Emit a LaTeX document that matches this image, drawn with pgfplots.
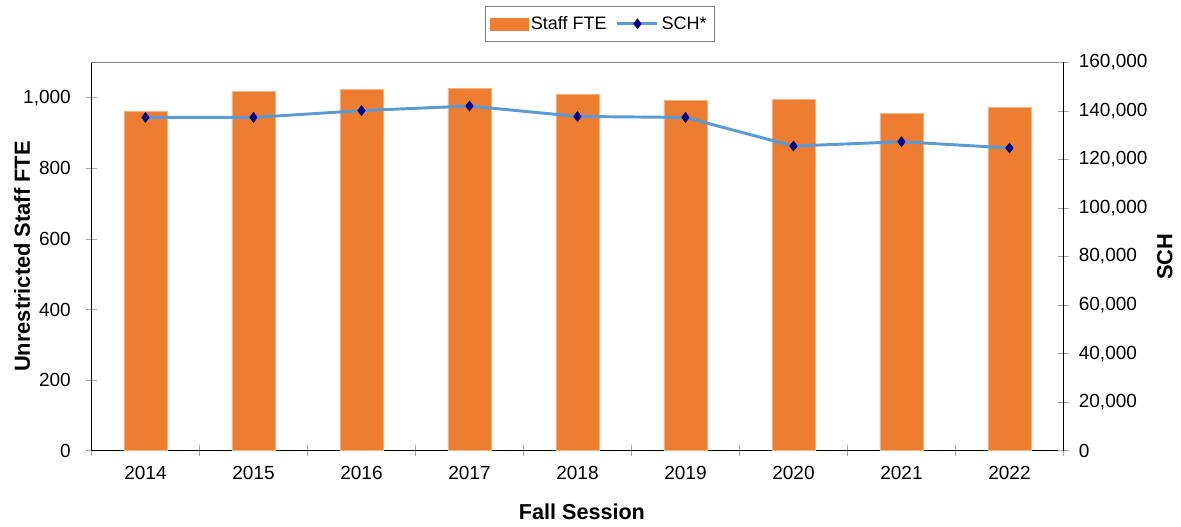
\documentclass[border=0pt]{standalone}
\usepackage{fontspec}
\setmainfont{Liberation Sans}
\usepackage{pgfplots}
\usepackage{pgfplotstable}
\pgfplotsset{compat=1.18}
\definecolor{barorange}{HTML}{ED7D31}
\definecolor{baredge}{HTML}{F4B183}
\definecolor{lineblue}{HTML}{5B9BD5}
\definecolor{mnavy}{HTML}{000080}
\definecolor{tickgray}{HTML}{A6A6A6}

\pgfplotstableread{
x year fte sch
0 2014 961 137300
1 2015 1017 137300
2 2016 1023 140100
3 2017 1026 142000
4 2018 1010 137700
5 2019 993 137300
6 2020 994 125500
7 2021 956 127300
8 2022 973 124700
}\data

\begin{document}
\begin{tikzpicture}
\useasboundingbox (0pt,0pt) rectangle (885.75pt,395.25pt);
\begin{axis}[
  at={(68.6pt,57.2pt)}, anchor=south west,
  scale only axis, width=729pt, height=291.3pt,
  xmin=-0.5, xmax=8.5, ymin=0, ymax=1100,
  axis x line*=bottom, axis y line*=left,
  x axis line style={-, black},
  y axis line style={-, black},
  xtick={0,...,8},
  xticklabels={2014,2015,2016,2017,2018,2019,2020,2021,2022},
  major x tick style={draw=none},
  minor xtick={-0.5,0.5,1.5,2.5,3.5,4.5,5.5,6.5,7.5,8.5},
  minor x tick style={draw=tickgray, thin},
  minor tick length=8pt,
  major tick length=8pt,
  ytick={0,200,...,1000},
  y tick style={draw=tickgray, thin},
  tick align=center,
  xtick pos=lower, ytick pos=left,
  /pgf/number format/assume math mode=true,
  /pgf/number format/fixed,
  /pgf/number format/1000 sep={,},
  tick label style={font=\fontsize{14.25}{17}\selectfont},
  xticklabel style={yshift=-3.75pt},
  yticklabel style={xshift=-8pt},
  xlabel={\textbf{Fall Session}},
  xlabel style={font=\fontsize{16.2}{18}\selectfont, at={(axis description cs:0.5046,-0.158)}, anchor=center},
  ylabel={\textbf{Unrestricted Staff FTE}},
  ylabel style={font=\fontsize{16.4}{18}\selectfont, at={(axis description cs:-0.0715,0.5)}, anchor=center},
  clip=false,
]
\addplot[ybar, bar width=32.5pt, fill=barorange, draw=baredge, line width=0.4pt] table[x=x, y=fte] {\data};
\draw[gray, line width=0.8pt] (rel axis cs:0,1) -- (rel axis cs:1,1);
\end{axis}
\begin{axis}[
  at={(68.6pt,57.2pt)}, anchor=south west,
  scale only axis, width=729pt, height=291.3pt,
  xmin=-0.5, xmax=8.5, ymin=0, ymax=160000,
  axis x line=none, axis y line*=right,
  y axis line style={-, black},
  ytick={0,20000,...,160000},
  scaled y ticks=false,
  y tick style={draw=tickgray, thin},
  major tick length=8pt,
  tick align=center,
  ytick pos=right,
  /pgf/number format/assume math mode=true,
  /pgf/number format/fixed,
  /pgf/number format/1000 sep={,},
  tick label style={font=\fontsize{14.25}{17}\selectfont},
  yticklabel style={xshift=4pt},
  ylabel={\textbf{SCH}},
  ylabel style={font=\fontsize{16.4}{18}\selectfont, at={(axis description cs:1.1044,0.5)}, anchor=center, rotate=0},
  legend columns=2,
  legend style={at={(axis description cs:0.523,1.145)}, anchor=north, draw=gray,
    font=\fontsize{13.5}{16}\selectfont, inner ysep=5.5pt, inner xsep=4pt,
    /tikz/every even column/.append style={column sep=5pt}},
  legend image code/.code={\draw[mark repeat=2,mark phase=2,#1] plot coordinates {(0pt,0pt) (15pt,0pt) (30pt,0pt)};},
  clip=false,
]
\addlegendimage{legend image code/.code={\fill[barorange] (0pt,-4.5pt) rectangle (28pt,4.5pt);}}
\addlegendentry{Staff FTE}
\addplot[color=lineblue, line width=2.2pt, line join=round, mark=diamond*,
  mark size=3.8pt, mark options={fill=mnavy, draw=mnavy, line width=0.4pt}
  ] table[x=x, y=sch] {\data};
\addlegendentry{SCH*}
\end{axis}
\end{tikzpicture}
\end{document}
